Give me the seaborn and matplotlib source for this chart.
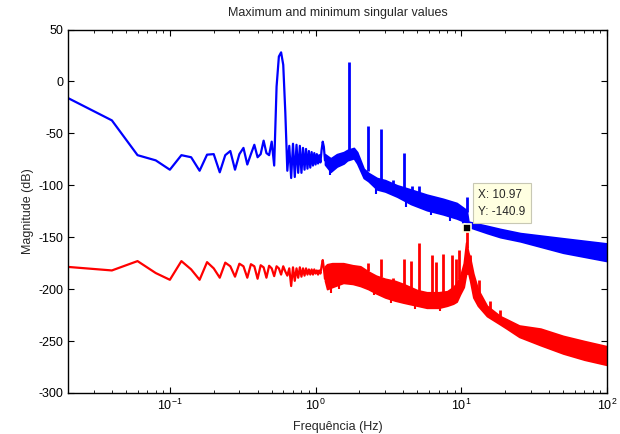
import numpy as np
import pandas as pd
import matplotlib
matplotlib.use("Agg")
import matplotlib.pyplot as plt
import seaborn as sns

# low frequency part, sampled every 0.02 Hz
low_f = [0.02, 0.04, 0.06, 0.08, 0.10, 0.12, 0.14, 0.16, 0.18, 0.20,
         0.22, 0.24, 0.26, 0.28, 0.30, 0.32, 0.34, 0.36, 0.38, 0.40,
         0.42, 0.44, 0.46, 0.48, 0.50, 0.52, 0.54, 0.56, 0.58, 0.60,
         0.62, 0.64, 0.66, 0.68, 0.70, 0.72, 0.74, 0.76, 0.78, 0.80,
         0.82, 0.84, 0.86, 0.88, 0.90, 0.92, 0.94, 0.96, 0.98, 1.00,
         1.02, 1.04, 1.06, 1.08, 1.10, 1.12, 1.14, 1.16]

max_db = [-16, -37.5, -71, -76, -85, -71, -73, -86, -70.5, -70,
          -87.5, -71, -67, -85, -70, -64, -80, -70, -61, -73,
          -70, -57, -69, -71, -58, -81, -5, 24, 28, 16,
          -30, -86, -62, -93, -60, -92, -61, -88, -62, -88,
          -64, -85, -65, -84, -67, -83, -68, -81, -69, -80,
          -70, -79, -71, -78, -66, -58, -63, -76]

min_db = [-178.6, -182, -173, -184.5, -191, -173, -181, -191, -174, -180,
          -189, -174.5, -178, -188, -175.5, -178, -189, -176, -178, -190,
          -177, -179, -189, -177.5, -180, -187.5, -178, -180, -186, -178,
          -183, -187, -180, -197, -179, -192, -180, -189, -179, -188,
          -180, -187, -180, -186, -181, -186, -181, -186, -181, -185,
          -182, -186, -182, -185, -178, -172, -180, -190]

# dense high frequency part: envelope of the band
max_band_f = [1.16, 1.27, 1.4, 1.56, 1.65, 1.83, 1.93, 2.14, 2.3, 2.64, 3.0,
              3.63, 4.5, 5.8, 7.5, 9.3, 10.9, 11.2, 15, 18.5, 25.4, 50, 100]
max_band_lo = [-80, -87, -82, -79, -76, -74, -79, -93, -96, -104, -106,
               -111, -118, -124, -128, -132, -136, -140, -146, -150, -154, -165, -173]
max_band_hi = [-70, -74, -70, -68, -66, -64, -68, -84, -88, -93, -95,
               -100, -104, -109, -113, -117, -124, -135, -139, -142, -146, -151, -156]

min_band_f = [1.16, 1.2, 1.3, 1.55, 1.8, 2.03, 2.3, 2.6, 3.0, 3.5, 4.0, 5.0,
              5.8, 7.0, 8.0, 8.8, 9.3, 9.8, 10.4, 10.8, 11.2, 11.5, 12.1, 13.0,
              15.0, 18.5, 20.5, 25, 35, 50, 70, 100]
min_band_lo = [-192, -200, -198, -194, -195, -197, -200, -204, -208, -211, -213, -216,
               -218, -218, -216, -214, -212, -205, -198, -185, -185, -192, -208, -216,
               -226, -234, -238, -246, -254, -262, -268, -273]
min_band_hi = [-178, -176, -175, -175, -177, -178, -183, -187, -190, -192, -195, -201,
               -203, -203, -202, -198, -194, -188, -175, -155, -165, -170, -185, -200,
               -216, -226, -229, -235, -238, -245, -250, -255]

# narrow resonance spikes
max_spike_f = [1.70, 2.29, 2.83, 3.4, 4.03, 4.6, 5.16, 10.9]
max_spike_base = [-68, -86, -94, -102, -104, -110, -112, -126]
max_spike_top = [19, -43, -45.5, -95, -68.5, -100.5, -101, -111.5]

# downward dips along the dense band edges
max_dip_f = [1.25, 2.6, 4.2, 6.2, 8.4, 10.2]
max_dip_top = [-80, -100, -112, -120, -126, -130]
max_dip_bot = [-90, -108, -121, -129, -134, -137]

min_spike_f = [2.29, 2.83, 3.4, 4.03, 4.55, 5.16, 6.3, 6.74, 7.49, 8.64,
               9.2, 9.66, 10.97, 11.4, 13.3, 15.8, 18.3]
min_spike_base = [-183, -188, -195, -197, -200, -202, -203, -203, -203, -201,
                  -198, -190, -160, -175, -205, -220, -228]
min_spike_top = [-175, -170.5, -189, -171, -172.5, -156, -167.5, -174, -166, -167,
                 -171, -162, -140.9, -167.5, -191, -211.5, -220]

min_dip_f = [1.27, 1.45, 2.5, 3.3, 4.8, 7.2]
min_dip_top = [-195, -192, -198, -205, -212, -214]
min_dip_bot = [-204, -200, -206, -213, -219, -221]

tip_x, tip_y = 10.97, -140.9

sns.set_style("ticks")
plt.rcParams['font.family'] = ['Liberation Sans', 'DejaVu Sans']
plt.rcParams['axes.unicode_minus'] = False

fig = plt.figure(figsize=(6.2, 4.34), dpi=100)
ax = fig.add_axes([0.1097, 0.0945, 0.8693, 0.8375])

low = pd.DataFrame({"f": low_f, "max": max_db, "min": min_db})
sns.lineplot(data=low, x="f", y="max", color="#0000ff", lw=1.6, ax=ax, estimator=None)
sns.lineplot(data=low, x="f", y="min", color="#ff0000", lw=1.6, ax=ax, estimator=None)

ax.fill_between(max_band_f, max_band_lo, max_band_hi, color="#0000ff", lw=1.2)
ax.fill_between(min_band_f, min_band_lo, min_band_hi, color="#ff0000", lw=1.2)
ax.vlines(max_spike_f, max_spike_base, max_spike_top, color="#0000ff", lw=2.0)
ax.vlines(min_spike_f, min_spike_base, min_spike_top, color="#ff0000", lw=2.0)
ax.vlines(max_dip_f, max_dip_bot, max_dip_top, color="#0000ff", lw=1.5)
ax.vlines(min_dip_f, min_dip_bot, min_dip_top, color="#ff0000", lw=1.5)

ax.set_xscale("log")
ax.set_xlim(0.02, 100)
ax.set_ylim(-300, 50)
ax.set_yticks(np.arange(-300, 51, 50))
ax.tick_params(which="both", direction="in", top=True, right=True, labelsize=9, colors="black")
ax.tick_params(which="major", length=4)
ax.tick_params(which="minor", length=2.5)
for s in ax.spines.values():
    s.set_color("black")
    s.set_linewidth(1.0)

ax.set_title("Maximum and minimum singular values", fontsize=9, pad=10)
ax.set_xlabel("Frequência (Hz)", fontsize=9, labelpad=6)
ax.set_ylabel("Magnitude (dB)", fontsize=9, labelpad=3)

# data tip
ax.plot([tip_x], [tip_y], marker="s", ms=6, color="black", mec="#ffffe1", mew=1.2, zorder=5)
ax.annotate(f"X: {tip_x}\nY: {tip_y}", xy=(tip_x, tip_y), xytext=(8, 7),
            textcoords="offset points", fontsize=8.5, va="bottom", ha="left",
            linespacing=1.6,
            bbox=dict(boxstyle="square,pad=0.45", fc="#ffffe1", ec="#c8c8b4", lw=0.8),
            zorder=6)

fig.savefig("out.png", dpi=100)
